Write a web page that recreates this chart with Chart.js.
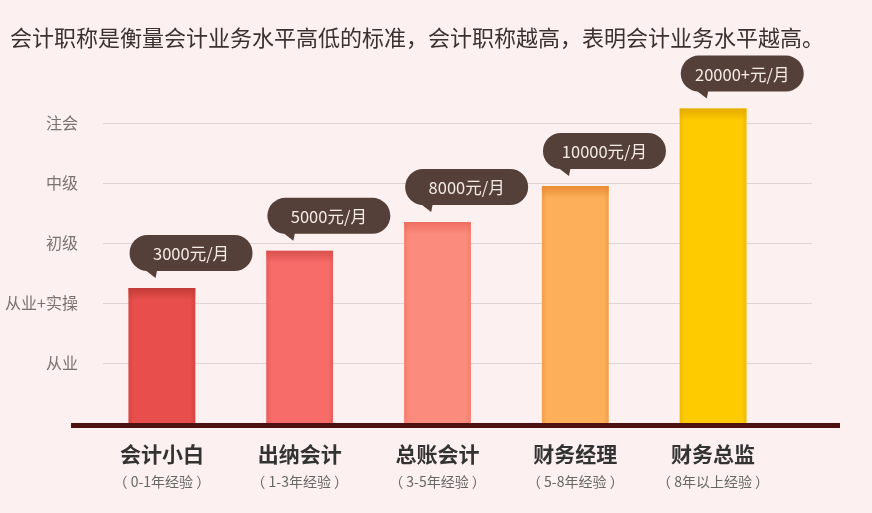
<!DOCTYPE html>
<html><head><meta charset="utf-8">
<script src="https://cdn.jsdelivr.net/npm/chart.js@4/dist/chart.umd.min.js"></script>
<style>html,body{margin:0;padding:0;background:#fcf0f0;}#wrap{width:872px;height:513px;}</style>
</head><body><div id="wrap"><canvas id="c" width="872" height="513"></canvas></div>
<script>
const categories = ['会计小白','出纳会计','总账会计','财务经理','财务总监'];
const experience = ['（ 0-1年经验 ）','（ 1-3年经验 ）','（ 3-5年经验 ）','（ 5-8年经验 ）','（ 8年以上经验 ）'];
const levelValues = [2.25, 2.87, 3.35, 3.95, 5.24];
const salaryLabels = ['3000元/月','5000元/月','8000元/月','10000元/月','20000+元/月'];
const levelTicks = ['', '从业', '从业+实操', '初级', '中级', '注会', ''];
const barColors = ['#e84e4c','#f76b69','#fb8b7c','#fdaf5a','#fdcb00'];
const barTopColors = ['#c23b38','#d9504d','#ee6e62','#e98c35','#e5aa00'];

const FONT = "'Noto Sans CJK SC','Noto Sans',sans-serif";

function rgba(hex, a){
  const n = parseInt(hex.slice(1),16);
  return `rgba(${(n>>16)&255},${(n>>8)&255},${n&255},${a})`;
}

const decor = {
  id: 'decor',
  afterLayout(chart){
    const t = chart.titleBlock;
    if (t){ t.left = 10; t.right = 872; t.width = 862; }
  },
  beforeDatasetsDraw(chart){
    const {ctx, scales:{y}} = chart;
    ctx.save();
    ctx.strokeStyle = '#ddd4d4';
    ctx.lineWidth = 1;
    for (let v = 1; v <= 5; v++){
      const py = Math.round(y.getPixelForValue(v)) + 0.5;
      ctx.beginPath(); ctx.moveTo(103, py); ctx.lineTo(812, py); ctx.stroke();
    }
    ctx.restore();
  },
  afterDatasetsDraw(chart){
    const {ctx, scales:{y}} = chart;
    const meta = chart.getDatasetMeta(0);
    ctx.save();
    meta.data.forEach((bar, i) => {
      const left = bar.x - bar.width/2;
      const bottom = y.getPixelForValue(0);
      const g = ctx.createLinearGradient(0, bar.y, 0, bar.y + 12);
      g.addColorStop(0, rgba(barTopColors[i], 1));
      g.addColorStop(1, rgba(barTopColors[i], 0));
      ctx.fillStyle = g;
      ctx.fillRect(left, bar.y, bar.width, 12);
      const gl = ctx.createLinearGradient(left, 0, left + 5, 0);
      gl.addColorStop(0, rgba(barTopColors[i], 0.5));
      gl.addColorStop(1, rgba(barTopColors[i], 0));
      ctx.fillStyle = gl;
      ctx.fillRect(left, bar.y, 5, bottom - bar.y);
      const gr = ctx.createLinearGradient(left + bar.width, 0, left + bar.width - 5, 0);
      gr.addColorStop(0, rgba(barTopColors[i], 0.5));
      gr.addColorStop(1, rgba(barTopColors[i], 0));
      ctx.fillStyle = gr;
      ctx.fillRect(left + bar.width - 5, bar.y, 5, bottom - bar.y);

      const bw = 123, bh = 36, r = 18;
      const bx = left + 1;
      const bb = bar.y - 17;
      const bt = bb - bh;
      ctx.fillStyle = '#553f39';
      ctx.beginPath();
      ctx.moveTo(bx + r, bt);
      ctx.lineTo(bx + bw - r, bt);
      ctx.arc(bx + bw - r, bt + r, r, -Math.PI/2, Math.PI/2);
      ctx.lineTo(bx + r, bb);
      ctx.arc(bx + r, bt + r, r, Math.PI/2, Math.PI*1.5);
      ctx.closePath();
      ctx.fill();
      ctx.beginPath();
      ctx.moveTo(bx + 13, bb - 3);
      ctx.lineTo(bx + 26, bb + 7);
      ctx.lineTo(bx + 28, bb - 3);
      ctx.closePath();
      ctx.fill();
      ctx.fillStyle = '#f4ece7';
      ctx.font = `16.5px ${FONT}`;
      ctx.textAlign = 'center';
      ctx.textBaseline = 'middle';
      ctx.fillText(salaryLabels[i], bx + bw/2, bt + bh/2 + 1);
    });
    const y0 = y.getPixelForValue(0);
    ctx.fillStyle = '#4e1010';
    ctx.fillRect(71, y0, 769, 5);
    ctx.restore();
  }
};

new Chart(document.getElementById('c'), {
  type: 'bar',
  data: {
    labels: categories,
    datasets: [{
      data: levelValues,
      backgroundColor: barColors,
      borderWidth: 0,
      categoryPercentage: 1,
      barPercentage: 0.484
    }]
  },
  options: {
    responsive: false,
    animation: false,
    layout: { padding: 0 },
    plugins: {
      legend: { display: false },
      tooltip: { enabled: false },
      title: {
        display: true,
        text: '会计职称是衡量会计业务水平高低的标准，会计职称越高，表明会计业务水平越高。',
        align: 'start',
        color: '#3a3130',
        font: { size: 22, weight: 'normal', family: FONT, lineHeight: 1.2 },
        padding: { top: 24, bottom: 12.6 }
      }
    },
    scales: {
      y: {
        min: 0, max: 6,
        grid: { display: false, drawTicks: false },
        border: { display: false },
        afterFit(s){ s.width = 93; },
        ticks: {
          stepSize: 1,
          padding: 15,
          color: '#7a7373',
          font: { size: 16, family: FONT },
          callback: (v) => levelTicks[v] || ''
        }
      },
      yR: {
        position: 'right',
        grid: { display: false, drawTicks: false },
        border: { display: false },
        ticks: { display: false },
        afterFit(s){ s.width = 90; }
      },
      x: {
        position: 'bottom',
        grid: { display: false, drawTicks: false },
        border: { display: false },
        afterFit(s){ s.height = 44; },
        ticks: {
          padding: 18,
          color: '#333333',
          font: { size: 21, weight: 'bold', family: FONT }
        }
      },
      x2: {
        type: 'category',
        labels: experience,
        position: 'bottom',
        grid: { display: false, drawTicks: false },
        border: { display: false },
        afterFit(s){ s.height = 46; },
        ticks: {
          padding: 6,
          color: '#666666',
          font: { size: 14, family: FONT }
        }
      }
    }
  },
  plugins: [decor]
});
</script>
</body></html>
